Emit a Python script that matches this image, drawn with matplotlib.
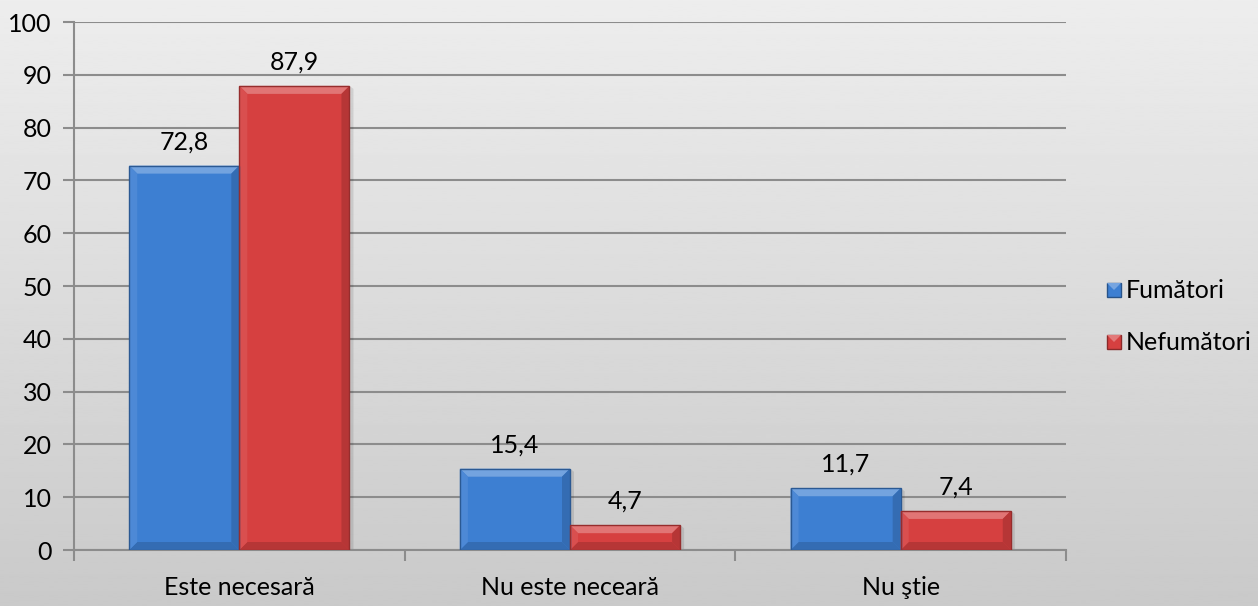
import matplotlib.pyplot as plt
import numpy as np
from matplotlib.patches import Polygon, Rectangle
from matplotlib.colors import to_rgb

categorii = ['Este necesară', 'Nu este neceară', 'Nu ştie']
fumatori = [72.8, 15.4, 11.7]
nefumatori = [87.9, 4.7, 7.4]
serii = ['Fumători', 'Nefumători']

plt.rcParams['font.family'] = ['Lato', 'DejaVu Sans']
plt.rcParams['font.size'] = 18

W, H, DPI = 12.58, 6.06, 100
fig = plt.figure(figsize=(W, H), dpi=DPI)

# fundal cu gradient vertical
bg = fig.add_axes([0, 0, 1, 1], zorder=-10)
grad = np.linspace(0.93, 0.79, 256).reshape(-1, 1)
bg.imshow(grad, aspect='auto', cmap='gray', vmin=0, vmax=1, extent=[0, 1, 0, 1])
bg.axis('off')

ax = fig.add_axes([74 / 1258, 56 / 606, 992 / 1258, 528 / 606])
ax.patch.set_alpha(0)

x = np.arange(len(categorii))
latime = 0.333
culori = ['#3d7fd2', '#d64040']

b1 = ax.bar(x - latime / 2, fumatori, latime, color=culori[0], zorder=3)
b2 = ax.bar(x + latime / 2, nefumatori, latime, color=culori[1], zorder=3)

ax.set_xlim(-0.5, 2.5)
ax.set_ylim(0, 100)
ax.set_yticks(np.arange(0, 101, 10))
ax.set_xticks(x)
ax.set_xticklabels(categorii)
ax.set_xticks([-0.5, 0.5, 1.5, 2.5], minor=True)
ax.grid(axis='y', color='#8c8c8c', linewidth=1.5, zorder=0)
for s in ['top', 'right']:
    ax.spines[s].set_visible(False)
for s in ['left', 'bottom']:
    ax.spines[s].set_color('#8c8c8c')
    ax.spines[s].set_linewidth(1.5)
ax.tick_params(axis='y', length=8, width=1.5, color='#8c8c8c', pad=8)
ax.tick_params(axis='x', which='major', length=0, pad=19)
ax.tick_params(axis='x', which='minor', length=8, width=1.5, color='#8c8c8c')

fig.canvas.draw()


def amestec(c, f):
    c = np.array(to_rgb(c))
    if f > 0:
        return tuple(c + (1 - c) * f)
    return tuple(c * (1 + f))


# efect de relief pe coloane
def relief(bar, culoare, b=8):
    x0, y0 = bar.get_x(), bar.get_y()
    x1, y1 = x0 + bar.get_width(), y0 + bar.get_height()
    (px0, py0), (px1, py1) = ax.transData.transform([(x0, y0), (x1, y1)])
    bb = min(b, (py1 - py0) / 2.2)
    inv = ax.transData.inverted()
    def P(pts):
        return inv.transform(pts)
    # umbra
    ax.add_patch(Polygon(P([(px1, py0), (px1 + 4, py0), (px1 + 4, py1 - 3), (px1, py1)]),
                         closed=True, color='#000000', alpha=0.10, lw=0, zorder=2))
    fete = [
        ([(px0, py0), (px1, py0), (px1 - bb, py0 + bb), (px0 + bb, py0 + bb)], -0.15),
        ([(px0, py1), (px1, py1), (px1 - bb, py1 - bb), (px0 + bb, py1 - bb)], 0.28),
        ([(px0, py0), (px0, py1), (px0 + bb, py1 - bb), (px0 + bb, py0 + bb)], 0.08),
        ([(px1, py0), (px1, py1), (px1 - bb, py1 - bb), (px1 - bb, py0 + bb)], -0.15),
    ]
    for pts, f in fete:
        ax.add_patch(Polygon(P(pts), closed=True, facecolor=amestec(culoare, f),
                             lw=0, zorder=4))
    ax.add_patch(Rectangle((x0, y0), x1 - x0, y1 - y0, fill=False,
                           edgecolor=amestec(culoare, -0.3), lw=1.0, zorder=5))


for bars, c, vals in [(b1, culori[0], fumatori), (b2, culori[1], nefumatori)]:
    for bar, v in zip(bars, vals):
        relief(bar, c)
        ax.annotate(f'{v:.1f}'.replace('.', ','), (bar.get_x() + bar.get_width() / 2, v),
                    xytext=(0, 9), textcoords='offset points', ha='center', va='bottom',
                    fontsize=18, zorder=6)

# legenda
leg_ax = fig.add_axes([0, 0, 1, 1], zorder=5)
leg_ax.axis('off')
leg_ax.set_xlim(0, 1258)
leg_ax.set_ylim(606, 0)
for i, (nume, c) in enumerate(zip(serii, culori)):
    yc = 290 + i * 52
    leg_ax.add_patch(Rectangle((1107, yc - 7), 14, 14, facecolor=c,
                               edgecolor=amestec(c, -0.35), lw=1))
    leg_ax.add_patch(Polygon([(1107, yc - 7), (1121, yc - 7), (1114, yc)], closed=True,
                             facecolor=amestec(c, 0.3), lw=0))
    leg_ax.text(1126, yc, nume, va='center', ha='left', fontsize=18)

fig.savefig('out.png', dpi=DPI)
